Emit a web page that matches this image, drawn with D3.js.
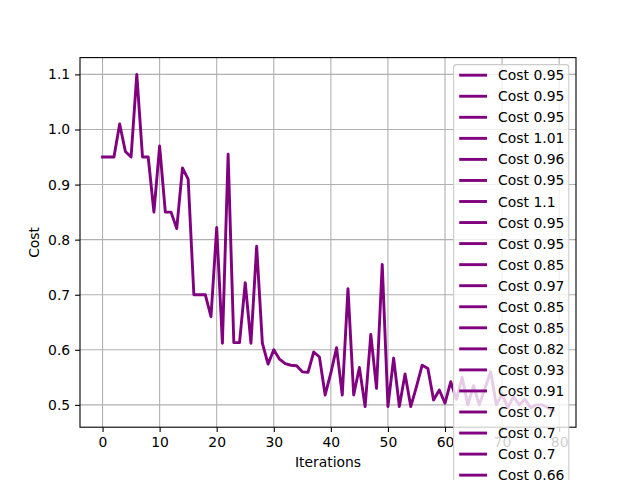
<!DOCTYPE html>
<html>
<head>
<meta charset="utf-8">
<script src="https://cdn.jsdelivr.net/npm/d3@7"></script>
<style>
  body { margin: 0; background: #fff; }
  text { font-family: "DejaVu Sans", sans-serif; fill: #000; }
</style>
</head>
<body>
<div id="chart"></div>
<script>
// cost per iteration (index = iteration)
var costs = [
    0.95, 0.95, 0.95, 1.01, 0.96, 0.95, 1.1, 0.95, 0.95, 0.85,
    0.97, 0.85, 0.85, 0.82, 0.93, 0.91, 0.7, 0.7, 0.7, 0.66,
    0.822, 0.612, 0.955, 0.613, 0.613, 0.722, 0.612, 0.788, 0.612, 0.574,
    0.6, 0.583, 0.575, 0.572, 0.571, 0.56, 0.559, 0.596, 0.587, 0.518,
    0.558, 0.604, 0.518, 0.711, 0.518, 0.568, 0.497, 0.628, 0.53, 0.755,
    0.497, 0.585, 0.497, 0.556, 0.497, 0.533, 0.572, 0.566, 0.509, 0.527,
    0.503, 0.542, 0.51, 0.55, 0.5, 0.535, 0.5, 0.53, 0.56, 0.5,
    0.52, 0.495, 0.515, 0.5, 0.51, 0.495, 0.5, 0.5, 0.495, 0.49
];
var xTicks = [0, 10, 20, 30, 40, 50, 60, 70, 80];
var yTicks = [0.5, 0.6, 0.7, 0.8, 0.9, 1.0, 1.1];
var xLabel = "Iterations";
var yLabel = "Cost";
var lineColor = "purple";

/**
 * Constructor for the cost chart
 */
function CostChart(){
    var self = this;
    self.init();
};

/**
 * Sets up svg, plot box and scales
 */
CostChart.prototype.init = function(){
    var self = this;
    self.width = 640;
    self.height = 480;
    self.box = {left: 80, right: 576, top: 57.6, bottom: 427.2};

    self.svg = d3.select("#chart").append("svg")
        .attr("width", self.width)
        .attr("height", self.height);

    //matplotlib style 5% margins on both axes
    var n = costs.length - 1;
    var yMin = d3.min(costs), yMax = d3.max(costs);
    var yPad = (yMax - yMin) * 0.05;
    self.x = d3.scaleLinear()
        .domain([-n * 0.05, n * 1.05])
        .range([self.box.left, self.box.right]);
    self.y = d3.scaleLinear()
        .domain([yMin - yPad, yMax + yPad])
        .range([self.box.bottom, self.box.top]);
};

/**
 * Draws grid, axes, the line and the legend
 */
CostChart.prototype.update = function(){
    var self = this;
    var b = self.box;
    var fs = 13.9;

    //grid
    var grid = self.svg.append("g");
    grid.selectAll(".gx").data(xTicks).enter().append("line")
        .attr("x1", d => self.x(d)).attr("x2", d => self.x(d))
        .attr("y1", b.top).attr("y2", b.bottom)
        .attr("stroke", "#b0b0b0").attr("stroke-width", 1.1);
    grid.selectAll(".gy").data(yTicks).enter().append("line")
        .attr("x1", b.left).attr("x2", b.right)
        .attr("y1", d => self.y(d)).attr("y2", d => self.y(d))
        .attr("stroke", "#b0b0b0").attr("stroke-width", 1.1);

    //the cost line
    var line = d3.line()
        .x((d, i) => self.x(i))
        .y(d => self.y(d));
    self.svg.append("path")
        .datum(costs)
        .attr("d", line)
        .attr("fill", "none")
        .attr("stroke", lineColor)
        .attr("stroke-width", 2.9)
        .attr("stroke-linejoin", "round")
        .attr("stroke-linecap", "square");

    //axes
    var xAxis = d3.axisBottom(self.x).tickValues(xTicks).tickSize(4.9).tickPadding(4.9)
        .tickFormat(d3.format("d"));
    var yAxis = d3.axisLeft(self.y).tickValues(yTicks).tickSize(4.9).tickPadding(4.9)
        .tickFormat(d3.format(".1f"));
    var gx = self.svg.append("g").attr("transform", "translate(0," + b.bottom + ")").call(xAxis);
    var gy = self.svg.append("g").attr("transform", "translate(" + b.left + ",0)").call(yAxis);
    [gx, gy].forEach(function(g){
        g.select(".domain").remove();
        g.selectAll(".tick line").attr("stroke", "#000").attr("stroke-width", 1.1);
        g.selectAll(".tick text").style("font-size", fs + "px").style("font-family", "DejaVu Sans");
    });

    //spines
    self.svg.append("rect")
        .attr("x", b.left).attr("y", b.top)
        .attr("width", b.right - b.left).attr("height", b.bottom - b.top)
        .attr("fill", "none").attr("stroke", "#000").attr("stroke-width", 1.1);

    self.svg.append("text")
        .attr("x", (b.left + b.right) / 2).attr("y", 467)
        .style("text-anchor", "middle").style("font-size", fs + "px")
        .text(xLabel);
    self.svg.append("text")
        .attr("transform", "translate(39," + ((b.top + b.bottom) / 2) + ") rotate(-90)")
        .style("text-anchor", "middle").style("font-size", fs + "px")
        .text(yLabel);

    //legend, one entry per point; it runs off the bottom of the figure,
    //so only the rows that can still be seen are drawn
    var legLeft = 453.6, legRight = 568.8, legTop = 64.6, rowH = 21.05;
    var rowY = i => legTop + 10.6 + i * rowH;
    var shown = costs.filter((d, i) => rowY(i) < self.height + 2);
    var legend = self.svg.append("g");
    legend.append("rect")
        .attr("x", legLeft).attr("y", legTop)
        .attr("width", legRight - legLeft)
        .attr("height", costs.length * rowH + 12)
        .attr("rx", 2.8)
        .attr("fill", "#fff").attr("fill-opacity", 0.8)
        .attr("stroke", "#cccccc").attr("stroke-width", 1.1);
    var rows = legend.selectAll(".row").data(shown).enter().append("g")
        .attr("transform", (d, i) => "translate(0," + rowY(i) + ")");
    rows.append("line")
        .attr("x1", legLeft + 5.6).attr("x2", legLeft + 33.4)
        .attr("stroke", lineColor).attr("stroke-width", 2.9);
    rows.append("text")
        .attr("x", legLeft + 44.5).attr("y", 0)
        .attr("dy", "0.36em")
        .style("font-size", fs + "px")
        .text(d => "Cost " + (+d.toFixed(2)));
};

var chart = new CostChart();
chart.update();
</script>
</body>
</html>
